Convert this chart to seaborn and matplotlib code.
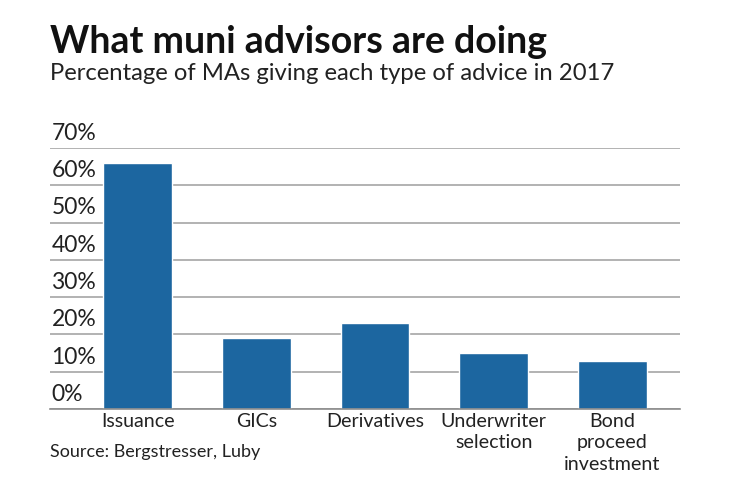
import seaborn as sns
import matplotlib.pyplot as plt
import pandas as pd

sns.set_style('white')
plt.rcParams['font.family'] = ['Lato', 'DejaVu Sans']

categories = ['Issuance', 'GICs', 'Derivatives', 'Underwriter\nselection', 'Bond\nproceed\ninvestment']
percentages = [66, 19, 23, 15, 13]
y_ticks = [0, 10, 20, 30, 40, 50, 60, 70]

df = pd.DataFrame({'advice': categories, 'pct': percentages})

fig = plt.figure(figsize=(7.4, 4.82), dpi=100)
ax = fig.add_axes([50 / 740, 1 - 409 / 482, 630 / 740, 261 / 482])

sns.barplot(data=df, x='advice', y='pct', color='#1c66a0', width=0.58, saturation=1, ax=ax, zorder=3)

ax.set_xlim(-0.74, 4.57)
ax.set_ylim(0, 70)
ax.set_yticks(y_ticks)
ax.set_yticklabels([])
ax.tick_params(axis='y', length=0)
ax.yaxis.grid(True, color='#a6a6a6', linewidth=1.2, zorder=0)
ax.set_axisbelow(True)
for s in ['top', 'right', 'left']:
    ax.spines[s].set_visible(False)
ax.spines['bottom'].set_color('#8c8c8c')
ax.spines['bottom'].set_linewidth(1.2)
ax.spines['bottom'].set_zorder(4)

# y labels sit above the gridlines, inside the plot
for v in y_ticks:
    ax.annotate(f'{v}%', xy=(0, v), xycoords=ax.get_yaxis_transform(),
                xytext=(1, 3), textcoords='offset points',
                ha='left', va='bottom', fontsize=16.5, color='#222222')

ax.set_xlabel('')
ax.set_ylabel('')
ax.tick_params(axis='x', length=0, pad=3, labelsize=14.1, labelcolor='#222222')
for lab in ax.get_xticklabels():
    lab.set_linespacing(1.3)

fig.text(50 / 740, 1 - 53 / 482, 'What muni advisors are doing', fontsize=27,
         fontweight='bold', color='#111111', ha='left', va='baseline')
fig.text(50 / 740, 1 - 80 / 482, 'Percentage of MAs giving each type of advice in 2017',
         fontsize=17.2, color='#222222', ha='left', va='baseline')
fig.text(50 / 740, 1 - 457 / 482, 'Source: Bergstresser, Luby', fontsize=13,
         color='#222222', ha='left', va='baseline')

plt.savefig('out.png', dpi=100)
